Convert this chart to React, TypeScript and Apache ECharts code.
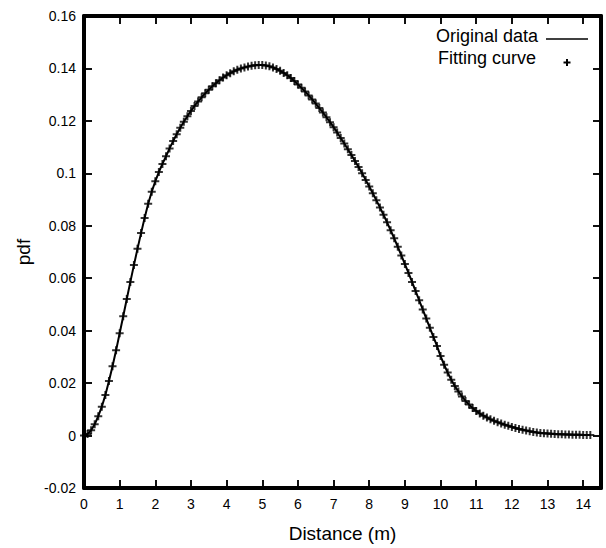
import React, { useEffect, useRef } from "react";
import * as echarts from "echarts";

const distances: number[] = [
  0.0, 0.1, 0.2, 0.3, 0.4, 0.5, 0.6, 0.7, 0.8, 0.9,
  1.0, 1.1, 1.2, 1.3, 1.4, 1.5, 1.6, 1.7, 1.8, 1.9,
  2.0, 2.1, 2.2, 2.3, 2.4, 2.5, 2.6, 2.7, 2.8, 2.9,
  3.0, 3.1, 3.2, 3.3, 3.4, 3.5, 3.6, 3.7, 3.8, 3.9,
  4.0, 4.1, 4.2, 4.3, 4.4, 4.5, 4.6, 4.7, 4.8, 4.9,
  5.0, 5.1, 5.2, 5.3, 5.4, 5.5, 5.6, 5.7, 5.8, 5.9,
  6.0, 6.1, 6.2, 6.3, 6.4, 6.5, 6.6, 6.7, 6.8, 6.9,
  7.0, 7.1, 7.2, 7.3, 7.4, 7.5, 7.6, 7.7, 7.8, 7.9,
  8.0, 8.1, 8.2, 8.3, 8.4, 8.5, 8.6, 8.7, 8.8, 8.9,
  9.0, 9.1, 9.2, 9.3, 9.4, 9.5, 9.6, 9.7, 9.8, 9.9,
  10.0, 10.1, 10.2, 10.3, 10.4, 10.5, 10.6, 10.7, 10.8, 10.9,
  11.0, 11.1, 11.2, 11.3, 11.4, 11.5, 11.6, 11.7, 11.8, 11.9,
  12.0, 12.1, 12.2, 12.3, 12.4, 12.5, 12.6, 12.7, 12.8, 12.9,
  13.0, 13.1, 13.2, 13.3, 13.4, 13.5, 13.6, 13.7, 13.8, 13.9,
  14.0, 14.1, 14.2,
];

const pdfValues: number[] = [
  0.0, 0.0006, 0.002, 0.0043, 0.0074, 0.011, 0.0155, 0.0208, 0.0264, 0.0325,
  0.039, 0.0455, 0.0521, 0.0586, 0.065, 0.0712, 0.0772, 0.083, 0.0884, 0.093,
  0.097, 0.1005, 0.1036, 0.1065, 0.1095, 0.1123, 0.1149, 0.1174, 0.1197, 0.1218,
  0.1238, 0.1257, 0.1274, 0.129, 0.1305, 0.1319, 0.1332, 0.1344, 0.1355, 0.1365,
  0.1374, 0.1382, 0.1389, 0.1395, 0.14, 0.1404, 0.1407, 0.141, 0.1412, 0.1413,
  0.1413, 0.1411, 0.1408, 0.1404, 0.1398, 0.1391, 0.1383, 0.1374, 0.1364, 0.1352,
  0.1339, 0.1326, 0.1312, 0.1297, 0.1282, 0.1266, 0.1249, 0.1232, 0.1214, 0.1195,
  0.1176, 0.1156, 0.1135, 0.1114, 0.1092, 0.107, 0.1047, 0.1024, 0.1, 0.0975,
  0.095, 0.0924, 0.0897, 0.087, 0.0842, 0.0813, 0.0783, 0.0752, 0.072, 0.0687,
  0.0654, 0.062, 0.0586, 0.0551, 0.0516, 0.0481, 0.0446, 0.0411, 0.0376, 0.0342,
  0.0303, 0.027, 0.024, 0.0213, 0.0189, 0.0168, 0.0149, 0.0132, 0.0118, 0.0105,
  0.0094, 0.0084, 0.0076, 0.0069, 0.0062, 0.0056, 0.0051, 0.0046, 0.0041, 0.0037,
  0.0033, 0.0029, 0.0025, 0.0022, 0.0019, 0.0016, 0.0014, 0.0012, 0.001, 0.0009,
  0.0008, 0.0007, 0.0006, 0.0005, 0.0005, 0.0004, 0.0004, 0.0003, 0.0003, 0.0003,
  0.0002, 0.0002, 0.0002,
];

const xTicks: number[] = [1, 2, 3, 4, 5, 6, 7, 8, 9, 10, 11, 12, 13, 14];
const yTicks: number[] = [0, 0.02, 0.04, 0.06, 0.08, 0.1, 0.12, 0.14];

const seriesNames = ["Original data", "Fitting curve"];
const xName = "Distance (m)";
const yName = "pdf";

const X_MIN = 0;
const X_MAX = 14.5;
const Y_MIN = -0.02;
const Y_MAX = 0.16;

const FONT = '"Liberation Sans", Arial, Helvetica, sans-serif';
const PLUS = "path://M3,0H5V3H8V5H5V8H3V5H0V3H3Z";

const mkTick = () => ({ show: true, inside: true, length: 8, lineStyle: { color: "#000", width: 1.5 } });
const mkLine = () => ({ show: true, onZero: false, lineStyle: { color: "#000", width: 4 } });
const mkLabel = (margin: number) => ({ color: "#000", fontSize: 14, fontFamily: FONT, margin });
const mkName = () => ({ color: "#000", fontSize: 19, fontFamily: FONT });

export default function App() {
  const ref = useRef<HTMLDivElement>(null);

  useEffect(() => {
    if (!ref.current) return;
    const chart = echarts.init(ref.current, undefined, { renderer: "svg" });
    const points = distances.map((d, i) => [d, pdfValues[i]]);

    // tick length of ~8px expressed in axis units (plot is ~517 x 476 px)
    const dx = (8 * (X_MAX - X_MIN)) / 517;
    const dy = (8 * (Y_MAX - Y_MIN)) / 476;
    const tickMarks: any[] = [];
    xTicks.forEach((k) => {
      tickMarks.push([{ coord: [k, Y_MIN] }, { coord: [k, Y_MIN + dy] }]);
      tickMarks.push([{ coord: [k, Y_MAX] }, { coord: [k, Y_MAX - dy] }]);
    });
    yTicks.forEach((v) => {
      tickMarks.push([{ coord: [X_MIN, v] }, { coord: [X_MIN + dx, v] }]);
      tickMarks.push([{ coord: [X_MAX, v] }, { coord: [X_MAX - dx, v] }]);
    });

    chart.setOption({
      animation: false,
      backgroundColor: "#fff",
      grid: { left: 84, right: 5, top: 16, bottom: 56, show: false },
      xAxis: [
        {
          type: "value",
          position: "bottom",
          min: X_MIN,
          max: X_MAX,
          interval: 1,
          axisLine: mkLine(),
          axisTick: mkTick(),
          axisLabel: mkLabel(9),
          splitLine: { show: false },
          name: xName,
          nameLocation: "middle",
          nameGap: 36,
          nameTextStyle: mkName(),
        },
        {
          type: "value",
          position: "top",
          min: X_MIN,
          max: X_MAX,
          interval: 1,
          axisLine: mkLine(),
          axisTick: mkTick(),
          axisLabel: { show: false },
          splitLine: { show: false },
        },
      ],
      yAxis: [
        {
          type: "value",
          position: "left",
          min: Y_MIN,
          max: Y_MAX,
          interval: 0.02,
          axisLine: mkLine(),
          axisTick: mkTick(),
          axisLabel: mkLabel(8),
          splitLine: { show: false },
          name: yName,
          nameLocation: "middle",
          nameRotate: 90,
          nameGap: 47,
          nameTextStyle: mkName(),
        },
        {
          type: "value",
          position: "right",
          min: Y_MIN,
          max: Y_MAX,
          interval: 0.02,
          axisLine: mkLine(),
          axisTick: mkTick(),
          axisLabel: { show: false },
          splitLine: { show: false },
        },
      ],
      series: [
        {
          name: seriesNames[0],
          type: "line",
          data: points,
          symbol: "none",
          lineStyle: { color: "#000", width: 2 },
          z: 2,
          markLine: {
            silent: true,
            symbol: ["none", "none"],
            label: { show: false },
            lineStyle: { color: "#000", width: 1.5, type: "solid" },
            emphasis: { disabled: true },
            data: tickMarks,
          },
        },
        {
          name: seriesNames[1],
          type: "scatter",
          data: points,
          symbol: PLUS,
          symbolSize: 8,
          itemStyle: { color: "#000" },
          z: 3,
        },
      ],
      graphic: [
        {
          type: "text",
          x: 538,
          y: 36,
          style: {
            text: seriesNames[0],
            fill: "#000",
            font: `18px ${FONT}`,
            align: "right",
            verticalAlign: "middle",
          },
        },
        {
          type: "line",
          shape: { x1: 546, y1: 39, x2: 588, y2: 39 },
          style: { stroke: "#000", lineWidth: 1.5 },
        },
        {
          type: "text",
          x: 536,
          y: 58,
          style: {
            text: seriesNames[1],
            fill: "#000",
            font: `18px ${FONT}`,
            align: "right",
            verticalAlign: "middle",
          },
        },
        {
          type: "polygon",
          shape: {
            points: [
              [566, 59], [568, 59], [568, 61.5], [570.5, 61.5], [570.5, 63.5], [568, 63.5],
              [568, 66], [566, 66], [566, 63.5], [563.5, 63.5], [563.5, 61.5], [566, 61.5],
            ],
          },
          style: { fill: "#000" },
        },
      ],
    });

    return () => chart.dispose();
  }, []);

  return (
    <div
      ref={ref}
      style={{ position: "fixed", left: 0, top: 0, width: 606, height: 548, background: "#fff" }}
    />
  );
}
